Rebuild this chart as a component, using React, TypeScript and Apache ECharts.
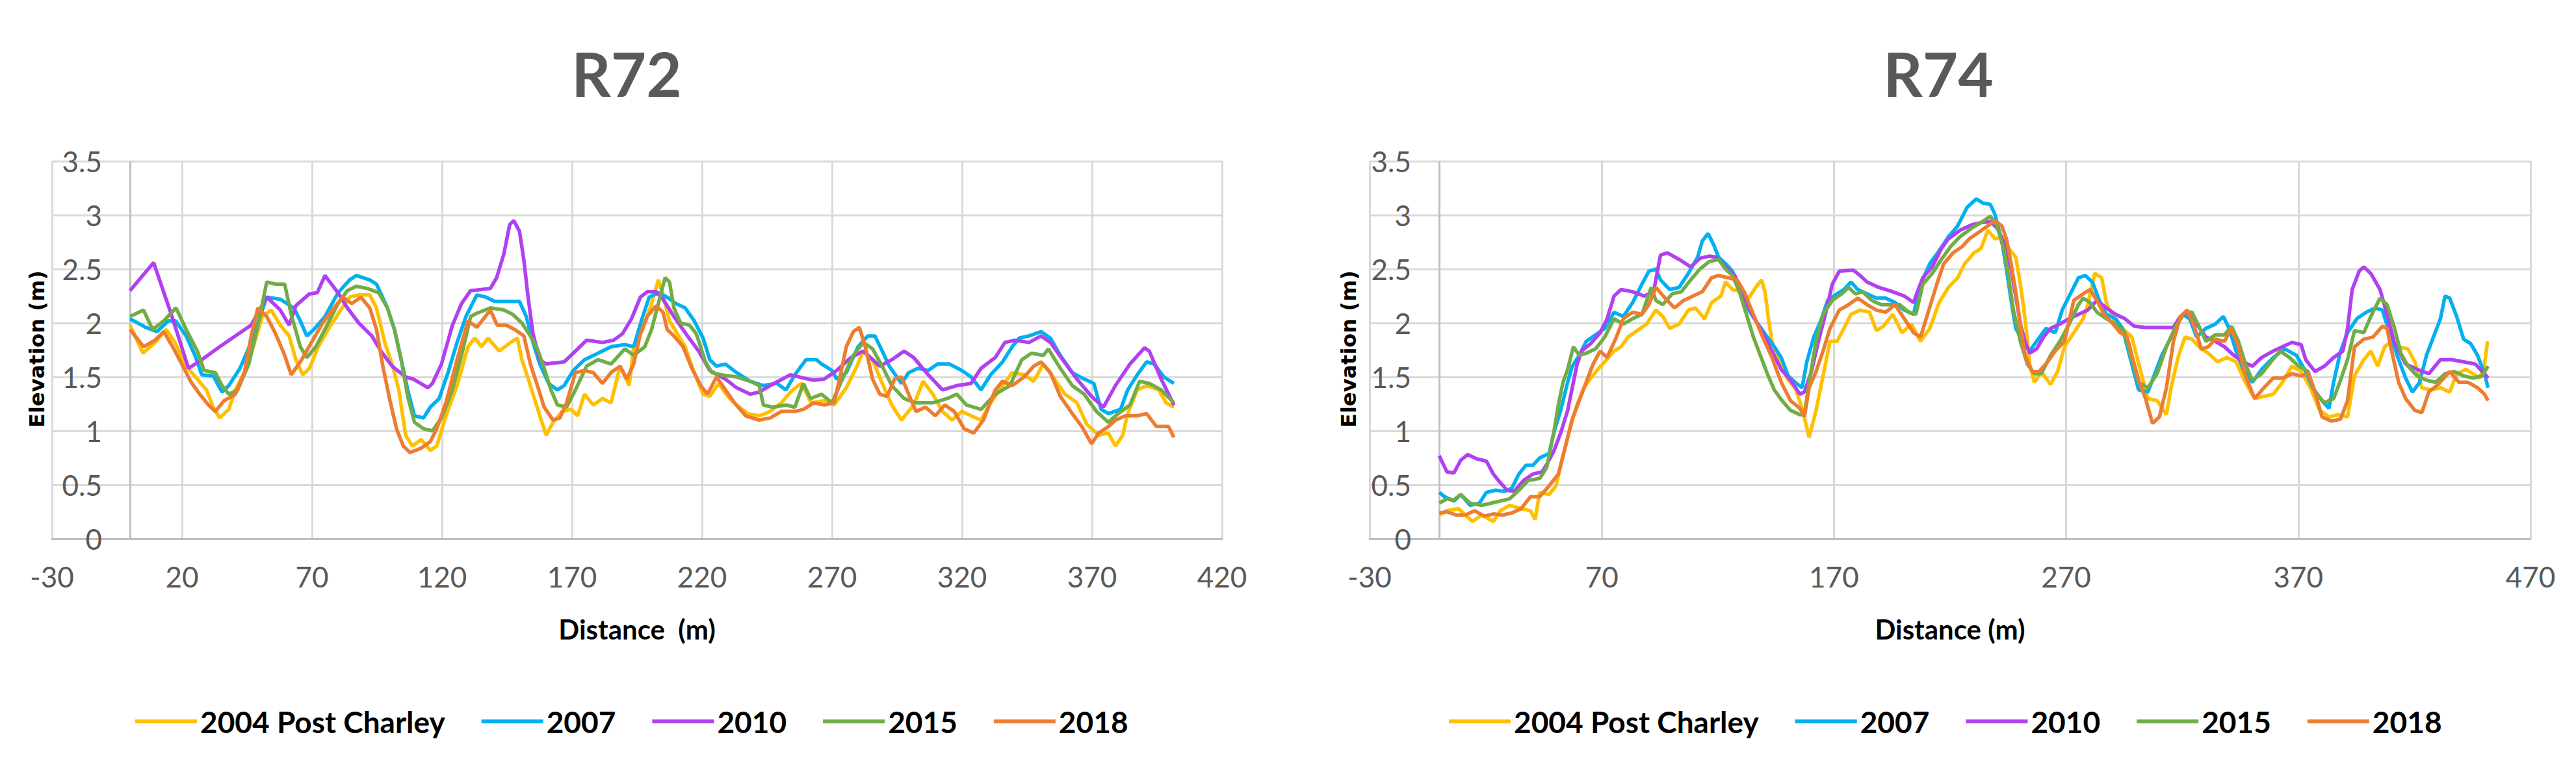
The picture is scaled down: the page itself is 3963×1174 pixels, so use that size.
import React, { useEffect, useRef } from "react";
import * as echarts from "echarts";

const SERIES_NAMES = ["2004 Post Charley", "2007", "2010", "2015", "2018"];
const COLORS = ["#FFC000", "#00B0F0", "#B140F0", "#70AD47", "#ED7D31"];
const TITLES = ["R72", "R74"];
const X_NAMES = ["Distance  (m)", "Distance (m)"];
const Y_NAME = "Elevation (m)";

// R72 profiles: [distance (m), elevation (m)]
const r72_2004: number[][] = [[0,1.98],[5,1.72],[9.6,1.82],[13.9,1.94],[17.3,1.82],[21.6,1.6],[25.9,1.48],[29.4,1.38],[32,1.22],[34.5,1.12],[38,1.2],[40.5,1.38],[44,1.54],[47.4,1.78],[50.9,2.06],[54.3,2.12],[57.8,1.98],[61.2,1.88],[63.8,1.66],[66.4,1.52],[69,1.58],[72.4,1.78],[76.7,1.96],[81,2.12],[84.5,2.24],[87.9,2.26],[92.2,2.26],[94.8,2.14],[98.2,1.8],[100.8,1.62],[103.4,1.38],[106,0.96],[108.6,0.86],[112,0.92],[115.5,0.82],[118,0.86],[121.5,1.14],[125.8,1.42],[130,1.78],[132.6,1.86],[135.2,1.78],[137.7,1.86],[142,1.74],[146.4,1.82],[149,1.86],[150.7,1.66],[153.2,1.48],[155.8,1.28],[158.4,1.08],[160.1,0.96],[162.7,1.08],[166.2,1.18],[169.6,1.2],[172.2,1.14],[174.8,1.34],[178.2,1.24],[181.7,1.3],[185,1.26],[188.5,1.6],[192,1.42],[193.7,1.78],[197.2,1.94],[200.6,2.18],[203.2,2.4],[205,2.26],[207.5,2.02],[210,1.92],[213.5,1.78],[217,1.54],[220.4,1.34],[223,1.32],[226.4,1.44],[229.9,1.32],[233.3,1.24],[237.6,1.16],[242,1.14],[246.2,1.18],[250.5,1.26],[254.8,1.38],[258.3,1.44],[262,1.26],[267,1.28],[270.8,1.24],[275.5,1.4],[279.2,1.58],[282,1.74],[285.6,1.66],[289.3,1.44],[293,1.24],[296.7,1.1],[301.4,1.24],[305,1.46],[308.8,1.34],[312.5,1.18],[316.2,1.1],[319.9,1.18],[323.5,1.14],[327.3,1.1],[331,1.26],[335.6,1.42],[339.3,1.54],[343.9,1.52],[347.6,1.46],[351.3,1.62],[355,1.5],[359.6,1.34],[364.2,1.26],[368,1.06],[372.6,0.96],[376.3,0.98],[379,0.86],[381.8,0.96],[383.7,1.16],[387.4,1.38],[391,1.42],[395.7,1.38],[398.5,1.26],[401.5,1.22]];
const r72_2007: number[][] = [[0,2.04],[6,1.96],[10.4,1.92],[14.7,2.02],[17.5,2.02],[21.6,1.88],[25,1.7],[27.6,1.52],[32,1.51],[35.4,1.36],[38,1.42],[42.3,1.58],[46.6,1.82],[50,2.06],[52.6,2.24],[57.8,2.22],[63,2.14],[65.5,2.02],[68,1.88],[70.7,1.94],[75,2.06],[80,2.28],[84.5,2.4],[87,2.44],[92.2,2.4],[94.8,2.36],[99,2.14],[101.7,1.94],[104.3,1.66],[106.8,1.38],[109.4,1.14],[112.9,1.12],[115.5,1.22],[118.9,1.3],[122.3,1.54],[125.8,1.82],[129.2,2.06],[133.4,2.26],[136.9,2.24],[140.3,2.2],[147.2,2.2],[149.8,2.2],[152.4,2.06],[155,1.82],[157.6,1.62],[161,1.44],[164.4,1.38],[167,1.42],[170.5,1.56],[174.8,1.66],[180,1.72],[185,1.78],[190.3,1.8],[193.7,1.78],[197.2,2.06],[199.7,2.24],[203.2,2.28],[206.6,2.24],[210,2.18],[213.5,2.14],[217,2.02],[220.4,1.86],[223,1.66],[225.6,1.6],[229,1.62],[233.3,1.54],[238.5,1.46],[243.6,1.42],[248.8,1.44],[252.3,1.38],[255.7,1.52],[260,1.66],[264,1.66],[266,1.62],[270,1.56],[271.8,1.48],[275.5,1.54],[280,1.78],[283.8,1.88],[286.5,1.88],[289.3,1.74],[292,1.6],[296.7,1.44],[299.5,1.54],[303,1.58],[307,1.56],[310.6,1.62],[315.2,1.62],[319.9,1.56],[323.5,1.5],[327.3,1.38],[331,1.52],[335.6,1.64],[339.3,1.78],[342,1.86],[345.8,1.88],[350.4,1.92],[354,1.86],[357.8,1.7],[362.4,1.54],[367,1.48],[370.7,1.44],[373.5,1.2],[376.3,1.16],[381,1.2],[383.7,1.38],[387.4,1.52],[391,1.64],[393.9,1.62],[397.6,1.5],[401.5,1.44]];
const r72_2010: number[][] = [[0,2.3],[9.1,2.56],[15.6,2.1],[22.5,1.58],[27.6,1.66],[34.5,1.78],[40.5,1.88],[46.6,1.98],[52.6,2.24],[57.8,2.12],[61.2,1.98],[63.8,2.16],[69,2.27],[72,2.28],[75,2.44],[80,2.28],[83.6,2.14],[88,2.0],[93,1.88],[96.5,1.74],[100.8,1.6],[106,1.5],[109,1.48],[114.6,1.4],[116.3,1.44],[119.8,1.62],[124,1.98],[127.5,2.18],[131,2.3],[138.6,2.32],[141,2.42],[143.8,2.64],[146,2.91],[147.6,2.95],[149.8,2.85],[151.5,2.58],[153.2,2.22],[155,1.9],[157.6,1.66],[160,1.62],[167,1.64],[171.3,1.74],[175.6,1.84],[181.7,1.82],[186,1.84],[189.4,1.9],[192.9,2.04],[196.3,2.24],[199,2.29],[202.3,2.29],[205,2.22],[209.2,2.06],[214.4,1.88],[218.7,1.74],[223,1.56],[229,1.48],[233.3,1.4],[238.5,1.34],[242,1.36],[246.2,1.42],[254,1.52],[259,1.49],[263,1.47],[267,1.48],[271.8,1.56],[277.3,1.68],[282,1.74],[288.4,1.6],[293,1.66],[297.7,1.74],[301.4,1.68],[307,1.52],[312.5,1.38],[318,1.42],[323.5,1.44],[327.3,1.58],[332.8,1.68],[336.5,1.82],[340.2,1.84],[345.8,1.82],[350.4,1.88],[354,1.82],[358.7,1.66],[364.2,1.48],[369.8,1.32],[374.4,1.22],[379,1.42],[384.6,1.62],[390.2,1.77],[392,1.74],[396.6,1.48],[401.5,1.24]];
const r72_2015: number[][] = [[0,2.06],[5.2,2.12],[8.7,1.94],[13,2.02],[17.7,2.14],[21.6,1.94],[25.9,1.74],[28.5,1.56],[32.8,1.54],[35.4,1.42],[38,1.34],[41.4,1.38],[45.7,1.62],[49.2,1.98],[52.6,2.38],[56,2.36],[59.5,2.36],[62,2.08],[65.5,1.78],[68,1.68],[71.5,1.78],[75.8,1.98],[80,2.18],[83.6,2.3],[87,2.34],[91.3,2.32],[95.7,2.28],[99,2.14],[101.7,1.94],[104.3,1.66],[106.8,1.32],[109.4,1.08],[112.9,1.02],[116.3,1.0],[119.8,1.12],[124,1.38],[127.5,1.7],[131,2.06],[133.4,2.09],[138.6,2.14],[143.8,2.12],[147.2,2.08],[150.7,2.0],[154,1.88],[156.7,1.76],[159.3,1.58],[161.9,1.38],[164.4,1.24],[167.9,1.22],[171.3,1.38],[175.6,1.6],[180,1.66],[185,1.62],[190.3,1.76],[193.7,1.7],[198,1.78],[200.6,1.94],[203.2,2.18],[205.8,2.42],[207.5,2.38],[209.2,2.14],[211.8,2.0],[215.2,1.98],[217.8,1.9],[221.3,1.64],[223.8,1.54],[227.3,1.52],[233.3,1.5],[238.5,1.46],[242,1.42],[243.6,1.24],[247,1.22],[252.3,1.24],[255.7,1.22],[259,1.44],[261.7,1.3],[266,1.34],[270,1.26],[273.6,1.46],[278.2,1.7],[282,1.82],[285.6,1.76],[289.3,1.6],[293,1.42],[297.7,1.3],[302.3,1.26],[308.8,1.26],[314.3,1.3],[318,1.34],[321.7,1.24],[327.3,1.2],[332.8,1.34],[338.4,1.42],[343,1.66],[346.7,1.72],[351.3,1.7],[353.2,1.76],[357.8,1.58],[362.4,1.42],[367,1.34],[371.7,1.18],[376.3,1.08],[380,1.16],[384.6,1.24],[388.3,1.46],[392,1.44],[396.6,1.38],[401.5,1.26]];
const r72_2018: number[][] = [[0,1.94],[5.2,1.78],[9.6,1.84],[13,1.92],[16.4,1.78],[19.9,1.62],[23.3,1.46],[26.8,1.34],[30.2,1.24],[32.8,1.18],[36.2,1.28],[40.5,1.34],[44,1.54],[46.6,1.88],[49.2,2.14],[52.6,2.06],[56,1.9],[59.5,1.7],[62,1.52],[65.5,1.64],[69.8,1.82],[74.1,2.0],[78.4,2.14],[81.9,2.24],[85.3,2.18],[88.8,2.24],[92.2,2.14],[94.8,1.94],[97.4,1.58],[100,1.28],[102.5,1.02],[105.1,0.86],[107.7,0.8],[112,0.84],[115.5,0.9],[118,1.02],[121.5,1.26],[125.8,1.66],[130,2.02],[133.4,1.96],[136,2.04],[138.6,2.12],[141.2,1.98],[144.6,1.98],[148,1.94],[151.5,1.88],[154,1.62],[156.7,1.42],[159.3,1.22],[162.7,1.1],[165.3,1.12],[167.9,1.26],[171.3,1.54],[174.8,1.56],[178.2,1.54],[181.7,1.44],[185,1.54],[188.5,1.6],[191.1,1.48],[193.7,1.62],[196.3,1.9],[198.9,2.06],[202.3,2.16],[205,2.1],[206.6,1.94],[209.2,1.88],[212.7,1.78],[216.1,1.58],[219.5,1.42],[222.1,1.34],[225.6,1.5],[229,1.38],[232.5,1.26],[236.8,1.14],[242,1.1],[246.2,1.12],[250.5,1.18],[255.7,1.18],[259,1.2],[263,1.26],[267,1.24],[270.8,1.26],[272.7,1.46],[275.5,1.78],[278.2,1.92],[280.5,1.96],[282.8,1.78],[285.6,1.48],[288.4,1.34],[291.2,1.32],[294,1.48],[296.7,1.5],[299.5,1.34],[302.3,1.18],[306,1.22],[309.7,1.14],[313.4,1.24],[317,1.18],[320.8,1.02],[324.5,0.98],[328.2,1.1],[332.8,1.38],[335.6,1.46],[339.3,1.42],[343.9,1.5],[347.6,1.6],[350.4,1.64],[354,1.54],[357.8,1.32],[362.4,1.16],[366.1,1.04],[369.8,0.88],[372.6,0.98],[376.3,1.04],[379,1.1],[382.8,1.14],[387.4,1.14],[391,1.16],[394.8,1.04],[399.4,1.04],[401.5,0.94]];

// R74 profiles: [distance (m), elevation (m)]
const r74_2004: number[][] = [[0,0.22],[3.3,0.26],[8.3,0.28],[11.3,0.22],[14.3,0.16],[18.3,0.22],[23.3,0.16],[26.3,0.26],[30.3,0.31],[35.3,0.28],[39.3,0.26],[41.3,0.18],[43.3,0.43],[47.3,0.41],[50.3,0.49],[53.3,0.77],[56.3,1.02],[59.3,1.24],[62.3,1.4],[65.3,1.49],[68.3,1.57],[71.3,1.64],[75.3,1.74],[78.3,1.78],[81.3,1.87],[85.3,1.93],[89.3,1.99],[93.3,2.12],[96.3,2.06],[99.3,1.95],[103.3,1.99],[107.3,2.12],[110.3,2.14],[114.3,2.04],[117.3,2.19],[121.3,2.25],[123.3,2.38],[126.3,2.31],[130.3,2.29],[133.3,2.23],[136.3,2.33],[138.8,2.4],[140.3,2.29],[141.8,2.04],[143.3,1.83],[146.3,1.66],[150.3,1.47],[153.3,1.4],[156.3,1.21],[159.3,0.94],[162.3,1.19],[165.3,1.51],[168.3,1.83],[171.3,1.83],[174.3,1.95],[177.3,2.08],[181.3,2.12],[185.3,2.1],[188.3,1.93],[191.3,1.97],[195.3,2.08],[199.3,1.91],[203.3,1.99],[207.3,1.83],[211.3,1.95],[215.3,2.19],[219.3,2.33],[223.3,2.42],[226.3,2.55],[230.3,2.65],[233.3,2.69],[236.3,2.86],[239.3,2.78],[242.3,2.8],[245.3,2.69],[248.3,2.61],[250.3,2.36],[252.3,2.04],[254.3,1.62],[256.3,1.45],[259.3,1.55],[263.3,1.43],[266.3,1.55],[269.3,1.78],[273.3,1.91],[277.3,2.04],[279.3,2.17],[282.3,2.46],[285.3,2.42],[287.3,2.19],[290.3,2.04],[294.3,1.95],[298.3,1.87],[301.3,1.62],[305.2,1.3],[309.2,1.28],[313.2,1.15],[315.2,1.4],[318.2,1.68],[321.2,1.87],[324.2,1.85],[328.2,1.76],[331.2,1.72],[335.2,1.64],[339.2,1.68],[343.2,1.64],[347.2,1.45],[351.2,1.3],[355.2,1.32],[359.2,1.34],[363.2,1.45],[367.2,1.6],[371.2,1.55],[375.2,1.4],[379.2,1.19],[383.2,1.13],[387.2,1.15],[391.2,1.13],[394.2,1.51],[398.2,1.66],[401.2,1.74],[404.2,1.6],[407.2,1.78],[410.2,1.83],[413.2,1.78],[417.2,1.76],[420.2,1.64],[423.2,1.4],[427.2,1.38],[431.2,1.4],[435.2,1.36],[438.2,1.53],[442.2,1.57],[445.2,1.53],[448.2,1.49],[450.2,1.62],[451.5,1.83]];
const r74_2007: number[][] = [[0,0.43],[2.3,0.39],[6.3,0.35],[9.3,0.41],[13.3,0.31],[17.3,0.33],[20.3,0.43],[24.3,0.45],[28.3,0.44],[31.3,0.47],[34.3,0.6],[37.3,0.68],[40.3,0.68],[43.3,0.75],[47.3,0.79],[49.3,0.98],[52.3,1.19],[55.3,1.45],[57.3,1.6],[60.3,1.7],[63.3,1.83],[67.3,1.89],[71.3,1.95],[75.3,2.1],[79.3,2.06],[83.3,2.19],[87.3,2.36],[90.3,2.48],[93.3,2.5],[95.3,2.4],[99.3,2.31],[103.3,2.33],[107.3,2.46],[111.3,2.61],[113.3,2.76],[115.8,2.83],[118.3,2.72],[120.3,2.61],[123.3,2.55],[126.3,2.48],[129.3,2.33],[133.3,2.12],[137.3,1.99],[141.3,1.87],[144.3,1.78],[147.3,1.68],[150.3,1.51],[153.3,1.45],[156.3,1.4],[158.3,1.64],[161.3,1.87],[164.3,2.02],[167.3,2.21],[171.3,2.27],[174.3,2.31],[177.3,2.38],[180.3,2.31],[184.3,2.27],[188.3,2.23],[192.3,2.23],[196.3,2.19],[200.3,2.12],[204.3,2.08],[207.3,2.36],[211.3,2.55],[215.3,2.67],[219.3,2.8],[223.3,2.9],[227.3,3.07],[231.3,3.15],[234.3,3.11],[237.3,3.1],[239.3,3.01],[242.3,2.76],[244.3,2.5],[246.3,2.21],[248.3,1.95],[251.3,1.83],[254.3,1.74],[257.3,1.83],[261.3,1.95],[265.3,1.91],[268.3,2.12],[272.3,2.29],[275.3,2.42],[278.3,2.44],[281.3,2.38],[284.3,2.21],[287.3,2.08],[291.3,2.04],[294.3,1.95],[297.3,1.7],[301.2,1.38],[305.2,1.36],[311.2,1.7],[316.2,1.91],[320.2,2.08],[323.2,2.04],[326.2,1.87],[330.2,1.95],[334.2,1.99],[337.7,2.06],[340.2,1.95],[343.2,1.74],[346.2,1.57],[350.2,1.45],[354.2,1.57],[359.2,1.68],[364.2,1.76],[369.2,1.7],[373.2,1.55],[376.2,1.4],[380.2,1.28],[383.2,1.21],[385.2,1.45],[388.2,1.74],[391.2,1.91],[395.2,2.04],[399.2,2.1],[403.2,2.14],[406.2,2.12],[409.2,1.91],[412.2,1.72],[416.2,1.49],[419.2,1.36],[422.2,1.45],[425.2,1.7],[428.2,1.87],[431.2,2.04],[433.2,2.25],[435.2,2.23],[438.2,2.06],[441.2,1.85],[444.2,1.81],[447.2,1.7],[450.2,1.53],[451.7,1.4]];
const r74_2010: number[][] = [[0,0.77],[3.3,0.62],[6.3,0.61],[9.3,0.73],[12.3,0.78],[16.3,0.74],[20.3,0.72],[23.3,0.6],[26.3,0.52],[29.3,0.45],[32.3,0.44],[36.3,0.54],[40.3,0.6],[44.3,0.62],[46.3,0.69],[49.3,0.81],[52.3,0.98],[55.3,1.19],[57.3,1.4],[59.3,1.61],[61.3,1.74],[65.3,1.81],[69.3,1.91],[72.3,2.04],[75.3,2.25],[78.3,2.31],[83.3,2.29],[88.3,2.25],[92.3,2.29],[95.3,2.63],[98.3,2.65],[103.3,2.59],[108.3,2.52],[112.3,2.6],[116.3,2.62],[119.3,2.61],[123.3,2.52],[127.3,2.44],[131.3,2.25],[135.3,2.06],[139.3,1.91],[143.3,1.74],[147.3,1.57],[151.3,1.47],[155.3,1.34],[157.3,1.36],[160.3,1.55],[163.3,1.83],[166.3,2.08],[169.3,2.36],[172.3,2.48],[178.3,2.49],[181.3,2.44],[184.3,2.38],[189.3,2.33],[195.3,2.29],[200.3,2.25],[204.3,2.19],[206.3,2.31],[208.3,2.42],[212.3,2.52],[216.3,2.69],[219.3,2.78],[224.3,2.86],[229.3,2.91],[233.3,2.93],[237.3,2.94],[240.3,2.88],[243.3,2.74],[246.3,2.5],[248.3,2.25],[250.3,1.99],[252.3,1.83],[254.3,1.72],[257.3,1.76],[260.3,1.87],[263.3,1.95],[267.3,1.99],[271.3,2.04],[275.3,2.08],[279.3,2.12],[283.3,2.21],[287.3,2.14],[291.3,2.08],[295.3,2.04],[299.3,1.97],[304,1.96],[316.2,1.96],[319.2,2.06],[322.2,2.1],[326.2,1.99],[330.2,1.87],[334.2,1.83],[338.2,1.78],[342.2,1.7],[346.2,1.64],[350.2,1.6],[354.2,1.68],[359.2,1.74],[363.2,1.78],[367.2,1.82],[371.2,1.8],[373.2,1.66],[377.2,1.55],[381.2,1.6],[385.2,1.68],[389.2,1.74],[391.2,1.95],[393.2,2.31],[396.2,2.48],[398.2,2.52],[401.2,2.46],[405.2,2.31],[408.2,2.08],[411.2,1.83],[416.2,1.62],[421.2,1.57],[426.2,1.53],[431.2,1.66],[436.2,1.66],[441.2,1.64],[446.2,1.62],[450.2,1.53],[451.7,1.49]];
const r74_2015: number[][] = [[0,0.33],[3.3,0.37],[6.3,0.36],[9.3,0.41],[13.3,0.33],[18.3,0.31],[22.3,0.33],[26.3,0.35],[30.3,0.37],[34.3,0.45],[38.3,0.54],[43.3,0.56],[46.3,0.66],[49.3,0.98],[51.3,1.24],[53.3,1.45],[55.3,1.57],[57.8,1.78],[60.3,1.7],[63.3,1.72],[67.3,1.76],[71.3,1.87],[75.3,2.04],[79.3,1.99],[83.3,2.04],[87.3,2.08],[91.3,2.33],[93.3,2.21],[96.3,2.17],[100.3,2.27],[104.3,2.29],[108.3,2.4],[112.3,2.5],[116.3,2.57],[120.3,2.59],[123.3,2.5],[126.3,2.44],[129.3,2.29],[132.3,2.08],[135.3,1.87],[138.3,1.7],[141.3,1.53],[144.3,1.38],[147.3,1.29],[151.3,1.19],[155.3,1.15],[157.3,1.15],[159.3,1.45],[162.3,1.83],[165.3,2.08],[169.3,2.21],[173.3,2.27],[176.3,2.33],[179.3,2.27],[182.3,2.29],[186.3,2.21],[190.3,2.17],[194.3,2.17],[198.3,2.17],[202.3,2.1],[205.3,2.08],[208.3,2.36],[212.3,2.46],[216.3,2.59],[220.3,2.71],[224.3,2.8],[229.3,2.88],[233.3,2.93],[237.3,2.99],[240.3,2.9],[243.3,2.67],[245.3,2.42],[247.3,2.12],[250.3,1.83],[253.3,1.62],[256.3,1.53],[259.3,1.53],[263.3,1.7],[267.3,1.83],[271.3,1.99],[275.3,2.17],[277.3,2.23],[280.3,2.19],[283.3,2.1],[287.3,2.04],[291.3,1.99],[295.3,1.91],[298.3,1.66],[301.2,1.45],[305.2,1.4],[309.2,1.53],[313.2,1.78],[317.2,1.97],[321.2,2.1],[324.2,2.1],[327.2,1.97],[330.2,1.83],[334.2,1.89],[338.2,1.89],[341.2,1.97],[344.2,1.83],[347.2,1.62],[350.2,1.47],[354.2,1.53],[358.2,1.64],[362.2,1.74],[366.2,1.68],[370.2,1.6],[374.2,1.55],[377.2,1.36],[381.2,1.26],[385.2,1.3],[388.2,1.47],[391.2,1.66],[394.2,1.93],[398.2,1.91],[401.2,2.06],[405.2,2.23],[408.2,2.17],[411.2,1.97],[414.2,1.72],[417.2,1.6],[421.2,1.51],[425.2,1.47],[429.2,1.45],[433.2,1.53],[437.2,1.55],[441.2,1.51],[445.2,1.49],[449.2,1.51],[451.7,1.6]];
const r74_2018: number[][] = [[0,0.24],[3.3,0.25],[7.3,0.22],[11.3,0.22],[15.3,0.26],[19.3,0.21],[23.3,0.23],[27.3,0.22],[31.3,0.24],[35.3,0.28],[39.3,0.39],[43.3,0.39],[47.3,0.49],[51.3,0.6],[54.3,0.85],[57.3,1.11],[60.3,1.28],[63.3,1.45],[66.3,1.62],[69.3,1.74],[72.3,1.68],[76.3,1.87],[79.3,2.04],[83.3,2.1],[87.3,2.08],[90.3,2.17],[93.3,2.33],[97.3,2.23],[101.3,2.14],[105.3,2.21],[109.3,2.25],[113.3,2.29],[117.3,2.42],[120.3,2.44],[124.3,2.42],[128.3,2.4],[131.3,2.29],[135.3,2.08],[139.3,1.87],[143.3,1.68],[147.3,1.45],[151.3,1.28],[155.3,1.21],[157.3,1.13],[159.3,1.4],[162.3,1.55],[165.3,1.74],[168.3,1.95],[172.3,2.12],[176.3,2.17],[180.3,2.23],[184.3,2.17],[188.3,2.12],[192.3,2.1],[196.3,2.17],[200.3,2.04],[204.3,1.91],[207.3,1.87],[210.3,2.08],[214.3,2.36],[217.3,2.55],[221.3,2.65],[225.3,2.71],[228.3,2.78],[232.3,2.84],[236.3,2.9],[239.3,2.95],[242.3,2.9],[244.3,2.78],[246.3,2.55],[248.3,2.29],[250.3,1.99],[252.3,1.7],[255.3,1.55],[258.3,1.55],[261.3,1.62],[265.3,1.74],[269.3,1.83],[273.3,2.21],[277.3,2.27],[280.3,2.31],[283.3,2.21],[286.3,2.08],[290.3,1.99],[293.3,1.91],[296.3,1.87],[299.3,1.62],[301.5,1.45],[304.2,1.3],[307.2,1.07],[310.2,1.13],[313.2,1.4],[316.2,1.83],[319.2,2.06],[322.2,2.12],[325.2,1.97],[328.2,1.76],[331.2,1.78],[334.2,1.85],[338.2,1.83],[341.2,1.95],[344.2,1.78],[347.2,1.51],[351.2,1.3],[355.2,1.4],[359.2,1.49],[363.2,1.49],[367.2,1.53],[371.2,1.51],[374.2,1.53],[377.2,1.36],[380.2,1.13],[384.2,1.09],[388.2,1.11],[391.2,1.28],[394.2,1.78],[398.2,1.85],[402.2,1.87],[406.2,1.97],[408.2,1.95],[410.2,1.74],[413.2,1.45],[416.2,1.3],[420.2,1.19],[423.2,1.17],[426.2,1.36],[430.2,1.43],[435.2,1.55],[439.2,1.45],[443.2,1.45],[447.2,1.4],[450.2,1.34],[451.7,1.28]];

const R72_DATA = [r72_2004, r72_2007, r72_2010, r72_2015, r72_2018];
const R74_DATA = [r74_2004, r74_2007, r74_2010, r74_2015, r74_2018];

const X_RANGES = [
  { min: -30, max: 420, interval: 50 },
  { min: -30, max: 470, interval: 100 },
];
const Y_RANGE = { min: 0, max: 3.5, interval: 0.5 };

const GRID_COLOR = "#D9D9D9";
const AXIS_COLOR = "#BFBFBF";
const TICK_COLOR = "#595959";

function buildOption() {
  const grids = [
    { left: 80, top: 248, width: 1800, height: 581, containLabel: false, outerBoundsMode: "none" },
    { left: 2107, top: 248, width: 1786, height: 581, containLabel: false, outerBoundsMode: "none" },
  ];
  // distance (px) from each grid's left edge to where the tick labels end (left of the x = 0 line)
  const yLabelInset = [77, 64];
  const xAxes = X_RANGES.map((r, i) => ({
    type: "value",
    gridIndex: i,
    min: r.min,
    max: r.max,
    interval: r.interval,
    name: X_NAMES[i],
    nameLocation: "middle",
    nameGap: 118,
    nameTextStyle: { fontFamily: "Lato", fontWeight: "bold", fontSize: 42, color: "#000" },
    axisLine: { show: true, onZero: false, lineStyle: { color: AXIS_COLOR, width: 3 } },
    axisTick: { show: false },
    axisLabel: { margin: 36, fontFamily: "Lato", fontSize: 44, color: TICK_COLOR },
    splitLine: { show: true, lineStyle: { color: GRID_COLOR, width: 3 } },
  }));
  const yAxes = [0, 1].map((i) => ({
    type: "value",
    gridIndex: i,
    min: Y_RANGE.min,
    max: Y_RANGE.max,
    interval: Y_RANGE.interval,
    axisLine: { show: false, onZero: false },
    axisTick: { show: false },
    axisLabel: {
      inside: true,
      align: "right",
      margin: yLabelInset[i],
      fontFamily: "Lato",
      fontSize: 44,
      color: TICK_COLOR,
    },
    splitLine: { show: true, lineStyle: { color: GRID_COLOR, width: 3 } },
  }));
  const series: any[] = [];
  [R72_DATA, R74_DATA].forEach((set, gi) => {
    set.forEach((data, si) => {
      const s: any = {
        type: "line",
        name: SERIES_NAMES[si],
        xAxisIndex: gi,
        yAxisIndex: gi,
        data,
        symbol: "none",
        showSymbol: false,
        lineStyle: { color: COLORS[si], width: 5.5 },
        itemStyle: { color: COLORS[si] },
        z: 2 + si,
      };
      if (si === 0) {
        // vertical axis line drawn where distance = 0
        s.markLine = {
          silent: true,
          symbol: "none",
          label: { show: false },
          lineStyle: { color: AXIS_COLOR, width: 3, type: "solid" },
          data: [{ xAxis: 0 }],
          z: 1,
        };
      }
      series.push(s);
    });
  });
  const legendBase = {
    orient: "horizontal",
    top: 1087,
    padding: 0,
    itemGap: 56,
    itemWidth: 95,
    itemHeight: 6,
    icon: "rect",
    data: SERIES_NAMES,
    textStyle: { fontFamily: "Lato", fontWeight: "bold", fontSize: 46, color: "#000" },
  };
  const titleText = (text: string, x: number) => ({
    type: "text",
    x,
    y: 112,
    style: {
      text,
      fill: "#595959",
      font: "bold 94px Lato",
      align: "center",
      verticalAlign: "middle",
      textAlign: "center",
      textVerticalAlign: "middle",
    },
  });
  const yNameText = (x: number) => ({
    type: "text",
    x,
    y: 537,
    rotation: Math.PI / 2,
    style: {
      text: Y_NAME,
      fill: "#000",
      font: "bold 32px 'DejaVu Sans'",
      align: "center",
      verticalAlign: "middle",
      textAlign: "center",
      textVerticalAlign: "middle",
    },
  });
  return {
    animation: false,
    backgroundColor: "#ffffff",
    grid: grids,
    xAxis: xAxes,
    yAxis: yAxes,
    series,
    legend: [
      { ...legendBase, left: 208 },
      { ...legendBase, left: 2229 },
    ],
    graphic: [titleText(TITLES[0], 964), titleText(TITLES[1], 2982), yNameText(57), yNameText(2075)],
  };
}

export default function App() {
  const ref = useRef<HTMLDivElement>(null);
  useEffect(() => {
    if (!ref.current) return;
    const chart = echarts.init(ref.current, null, { renderer: "svg" });
    chart.setOption(buildOption() as any);
    return () => chart.dispose();
  }, []);
  return (
    <div
      ref={ref}
      style={{ position: "absolute", left: 0, top: 0, width: 3963, height: 1174, background: "#fff" }}
    />
  );
}
